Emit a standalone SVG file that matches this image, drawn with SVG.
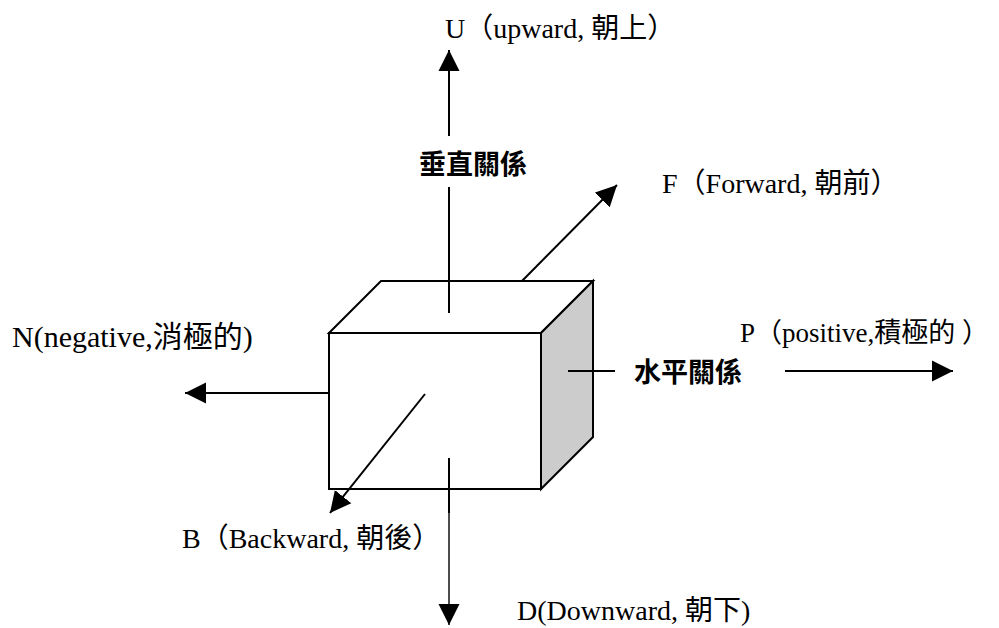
<svg xmlns="http://www.w3.org/2000/svg" width="999" height="628" viewBox="0 0 999 628">
  <style>
    .edge { stroke: #000; stroke-width: 2; fill: none; }
    .thin { stroke: #000; stroke-width: 1.4; fill: none; }
    .face { stroke: #000; stroke-width: 2; stroke-linejoin: miter; }
    .label { font-family: "Liberation Serif", "Noto Sans CJK TC", serif; font-size: 28px; fill: #000; }
    .axis { font-family: "Noto Sans CJK TC", "Liberation Sans", sans-serif; font-size: 27px; font-weight: 700; fill: #000; }
  </style>
  <defs>
    <marker id="head" markerUnits="userSpaceOnUse" markerWidth="22" markerHeight="22" viewBox="-21 -11 22 22" refX="0" refY="0" orient="auto">
      <path d="M0,0 L-21,-10.5 L-21,10.5 Z" fill="#000"/>
    </marker>
  </defs>

  <rect width="999" height="628" fill="#fff"/>

  <!-- box -->
  <g id="box">
    <polygon class="face" points="329,333 381,281 593,281 541,333" fill="#fff"/>
    <polygon class="face" points="541,333 593,281 593,437 541,489" fill="#cccccc"/>
    <rect class="face" x="329" y="333" width="212" height="156" fill="#fff"/>
  </g>

  <!-- direction connectors -->
  <g id="connectors">
    <!-- up -->
    <line class="edge" x1="449" y1="313" x2="449" y2="187"/>
    <line class="edge" x1="449" y1="136" x2="449" y2="50" marker-end="url(#head)"/>
    <!-- forward -->
    <line class="edge" x1="522" y1="281" x2="617" y2="185" marker-end="url(#head)"/>
    <!-- negative -->
    <line class="edge" x1="329" y1="393" x2="185" y2="393" marker-end="url(#head)"/>
    <!-- positive -->
    <line class="edge" x1="568" y1="371" x2="615" y2="371"/>
    <line class="edge" x1="785" y1="371" x2="953" y2="371" marker-end="url(#head)"/>
    <!-- backward -->
    <line class="edge" x1="425" y1="394" x2="330" y2="513" marker-end="url(#head)"/>
    <!-- down -->
    <line class="edge" x1="449" y1="458" x2="449" y2="513"/>
    <line class="thin" x1="449" y1="513" x2="449" y2="625" marker-end="url(#head)"/>
  </g>

  <g id="label-up"><text class="label" x="445" y="38">U（upward, 朝上）</text></g>
  <g id="label-vertical"><text class="axis" x="419" y="174">垂直關係</text></g>
  <g id="label-forward"><text class="label" x="662" y="193">F（Forward, 朝前）</text></g>
  <g id="label-negative"><text class="label" x="12" y="347" style="font-size:30px">N(negative,消極的)</text></g>
  <g id="label-positive"><text class="label" x="740" y="342" style="font-size:27px">P（positive,積極的 ）</text></g>
  <g id="label-horizontal"><text class="axis" x="634" y="382">水平關係</text></g>
  <g id="label-backward"><text class="label" x="182" y="548">B（Backward, 朝後）</text></g>
  <g id="label-down"><text class="label" x="517" y="620">D(Downward, 朝下)</text></g>
</svg>
